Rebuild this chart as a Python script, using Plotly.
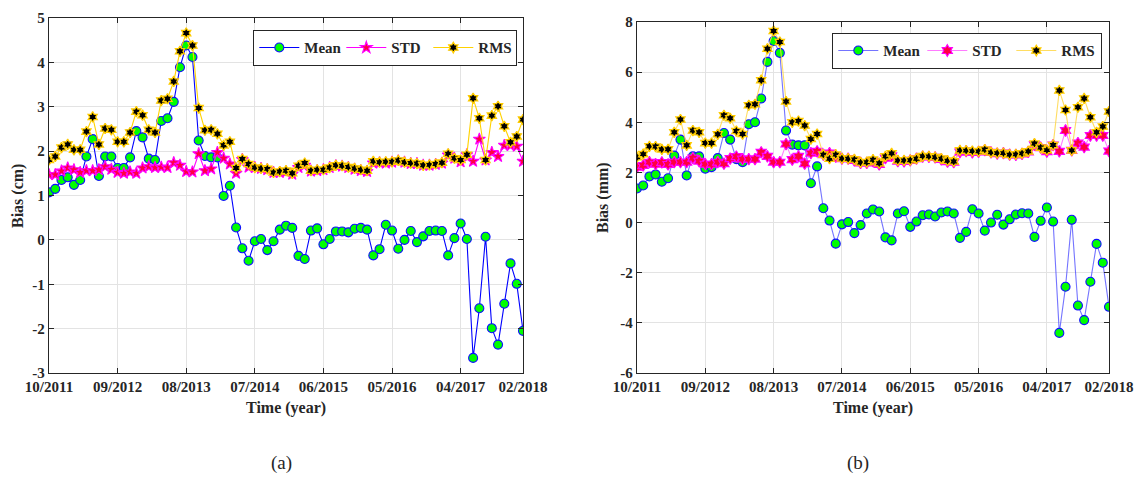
import pandas as pd
import plotly.graph_objects as go

# ---- categories (monthly, 10/2011 .. 02/2018) ----
months = [d.strftime("%m/%Y") for d in pd.date_range("2011-10-01", "2018-02-01", freq="MS")]
tick_labels = ["10/2011", "09/2012", "08/2013", "07/2014", "06/2015", "05/2016", "04/2017", "02/2018"]
yticks_a = [-3, -2, -1, 0, 1, 2, 3, 4, 5]
yticks_b = [-6, -4, -2, 0, 2, 4, 6, 8]

# ---- panel (a): Bias in cm ----
mean_a = [1.07, 1.15, 1.35, 1.41, 1.24, 1.35, 1.88, 2.27, 1.44, 1.88,
          1.88, 1.62, 1.62, 1.86, 2.45, 2.31, 1.83, 1.80, 2.68, 2.74,
          3.11, 3.89, 4.38, 4.12, 2.24, 1.89, 1.86, 1.86, 0.99, 1.22,
          0.28, -0.19, -0.47, -0.03, 0.02, -0.23, -0.03, 0.23, 0.32, 0.27,
          -0.36, -0.43, 0.21, 0.26, -0.10, 0.02, 0.19, 0.19, 0.17, 0.25,
          0.27, 0.23, -0.35, -0.21, 0.34, 0.21, -0.20, 0.00, 0.20, -0.05,
          0.08, 0.20, 0.21, 0.20, -0.35, 0.04, 0.37, 0.02, -2.66, -1.54,
          0.07, -1.99, -2.36, -1.44, -0.53, -0.99, -2.05]
std_a = [1.47, 1.47, 1.55, 1.62, 1.58, 1.52, 1.56, 1.56, 1.58, 1.65,
         1.59, 1.52, 1.50, 1.53, 1.50, 1.62, 1.65, 1.63, 1.64, 1.63,
         1.74, 1.68, 1.54, 1.53, 1.94, 1.56, 1.60, 1.97, 1.84, 1.71,
         1.50, 1.81, 1.64, 1.63, 1.61, 1.58, 1.52, 1.52, 1.53, 1.48,
         1.63, 1.68, 1.55, 1.56, 1.58, 1.63, 1.67, 1.66, 1.63, 1.59,
         1.56, 1.54, 1.73, 1.74, 1.73, 1.75, 1.78, 1.75, 1.72, 1.72,
         1.68, 1.68, 1.70, 1.73, 1.91, 1.84, 1.76, 1.92, 1.77, 2.27,
         1.80, 1.97, 1.88, 2.13, 2.13, 2.11, 1.77]
rms_a = [1.80, 1.88, 2.08, 2.15, 2.03, 2.03, 2.44, 2.77, 2.15, 2.51,
         2.48, 2.21, 2.21, 2.42, 2.89, 2.81, 2.48, 2.42, 3.14, 3.18,
         3.57, 4.25, 4.66, 4.38, 2.97, 2.47, 2.48, 2.39, 2.13, 2.21,
         1.62, 1.82, 1.71, 1.63, 1.61, 1.60, 1.52, 1.54, 1.56, 1.50,
         1.67, 1.73, 1.56, 1.58, 1.58, 1.63, 1.68, 1.67, 1.64, 1.61,
         1.58, 1.56, 1.77, 1.75, 1.76, 1.76, 1.79, 1.75, 1.73, 1.72,
         1.68, 1.69, 1.71, 1.74, 1.94, 1.84, 1.80, 1.92, 3.19, 2.74,
         1.80, 2.80, 3.01, 2.56, 2.20, 2.33, 2.71]

# ---- panel (b): Bias in mm ----
mean_b = [1.36, 1.48, 1.84, 1.92, 1.63, 1.77, 2.67, 3.31, 1.88, 2.64,
          2.64, 2.15, 2.21, 2.57, 3.57, 3.31, 2.53, 2.41, 3.92, 4.00,
          4.95, 6.41, 7.24, 6.77, 3.67, 3.11, 3.08, 3.08, 1.57, 2.24,
          0.57, 0.08, -0.84, -0.07, 0.02, -0.42, -0.10, 0.36, 0.52, 0.44,
          -0.59, -0.71, 0.36, 0.45, -0.17, 0.04, 0.29, 0.32, 0.24, 0.40,
          0.44, 0.36, -0.61, -0.37, 0.53, 0.36, -0.32, 0.00, 0.31, -0.08,
          0.13, 0.32, 0.37, 0.36, -0.57, 0.07, 0.60, 0.04, -4.40, -2.56,
          0.11, -3.31, -3.89, -2.36, -0.85, -1.60, -3.36]
std_b = [2.21, 2.28, 2.41, 2.33, 2.40, 2.32, 2.41, 2.41, 2.41, 2.57,
         2.45, 2.33, 2.33, 2.41, 2.35, 2.55, 2.63, 2.53, 2.53, 2.53,
         2.80, 2.64, 2.41, 2.41, 3.13, 2.51, 2.64, 2.35, 2.77, 2.84,
         2.71, 2.77, 2.63, 2.55, 2.55, 2.48, 2.38, 2.38, 2.45, 2.32,
         2.57, 2.66, 2.45, 2.44, 2.48, 2.55, 2.63, 2.62, 2.60, 2.52,
         2.43, 2.41, 2.81, 2.85, 2.80, 2.82, 2.89, 2.80, 2.75, 2.77,
         2.71, 2.70, 2.74, 2.82, 3.10, 2.99, 2.83, 3.09, 2.84, 3.67,
         2.88, 3.17, 3.01, 3.47, 3.47, 3.47, 2.85]
rms_b = [2.61, 2.73, 3.04, 3.03, 2.92, 2.92, 3.60, 4.11, 3.08, 3.67,
         3.60, 3.17, 3.17, 3.52, 4.28, 4.16, 3.65, 3.53, 4.68, 4.72,
         5.68, 6.93, 7.64, 7.20, 4.83, 4.00, 4.05, 3.87, 3.33, 3.53,
         2.71, 2.55, 2.71, 2.56, 2.55, 2.52, 2.40, 2.41, 2.51, 2.37,
         2.64, 2.76, 2.48, 2.48, 2.49, 2.55, 2.65, 2.64, 2.61, 2.55,
         2.47, 2.44, 2.88, 2.87, 2.85, 2.84, 2.91, 2.80, 2.77, 2.77,
         2.71, 2.72, 2.76, 2.84, 3.15, 2.99, 2.89, 3.09, 5.27, 4.49,
         2.88, 4.60, 4.95, 4.20, 3.60, 3.83, 4.43]

W, H = 1141, 500
SERIF = "Times New Roman, Liberation Serif, serif"

fig = go.Figure()

def add_panel(xa, ya, legend, mean, std, rms, light, std_symbol):
    blue = "rgba(70,70,255,0.75)" if light else "#0000FF"
    mag = "rgba(255,90,255,0.8)" if light else "#FF00FF"
    yel = "rgba(255,215,70,0.85)" if light else "#FFD200"
    fig.add_trace(go.Scatter(
        x=months, y=mean, name="Mean", mode="lines+markers", xaxis=xa, yaxis=ya, legend=legend,
        line=dict(color=blue, width=1.1),
        marker=dict(symbol="circle", size=9, color="#00FF00", line=dict(color="#1010FF", width=1.1))))
    fig.add_trace(go.Scatter(
        x=months, y=std, name="STD", mode="lines+markers", xaxis=xa, yaxis=ya, legend=legend,
        line=dict(color=mag, width=1.1),
        marker=dict(symbol=std_symbol, size=9, color="#FF0040", line=dict(color="#FF00FF", width=1.1))))
    fig.add_trace(go.Scatter(
        x=months, y=rms, name="RMS", mode="lines+markers", xaxis=xa, yaxis=ya, legend=legend,
        line=dict(color=yel, width=1.1),
        marker=dict(symbol="hexagram", size=8, color="#000000", line=dict(color="#FFCC00", width=1.3))))

add_panel("x", "y", "legend", mean_a, std_a, rms_a, False, "star")
add_panel("x2", "y2", "legend2", mean_b, std_b, rms_b, True, "hexagram")

axis_common = dict(
    showline=True, linecolor="#262626", linewidth=1.3, mirror="ticks",
    ticks="inside", ticklen=5, tickcolor="#262626", tickwidth=1,
    showgrid=True, gridcolor="#E3E3E3", gridwidth=1, zeroline=False,
    automargin=False,
    tickfont=dict(family=SERIF, size=15, color="#262626", weight="bold"),
)

xl = [49 / W, 523 / W]
xr = [637 / W, 1109 / W]
leg_font = dict(family=SERIF, size=15, color="#262626", weight="bold")
fig.update_layout(
    width=W, height=H,
    margin=dict(l=0, r=0, t=0, b=0, autoexpand=False),
    paper_bgcolor="white", plot_bgcolor="white",
    font=dict(family=SERIF, size=14, color="#262626"),
    xaxis=dict(domain=xl, anchor="y", type="category", range=[0, 76],
               tickmode="array", tickvals=tick_labels, ticktext=tick_labels, **axis_common),
    yaxis=dict(domain=[1 - 373 / H, 1 - 18 / H], anchor="x", range=[-3, 5],
               tickmode="array", tickvals=yticks_a, ticktext=[str(v) for v in yticks_a], **axis_common),
    xaxis2=dict(domain=xr, anchor="y2", type="category", range=[0, 76],
                tickmode="array", tickvals=tick_labels, ticktext=tick_labels, **axis_common),
    yaxis2=dict(domain=[1 - 373 / H, 1 - 22 / H], anchor="x2", range=[-6, 8],
                tickmode="array", tickvals=yticks_b, ticktext=[str(v) for v in yticks_b], **axis_common),
    legend=dict(orientation="h", x=253 / W, y=1 - 30 / H, xanchor="left", yanchor="top",
                entrywidth=32, entrywidthmode="pixels", itemwidth=40,
                bgcolor="white", bordercolor="#262626", borderwidth=1.3, font=leg_font),
    legend2=dict(orientation="h", x=832 / W, y=1 - 33 / H, xanchor="left", yanchor="top",
                 entrywidth=34, entrywidthmode="pixels", itemwidth=40,
                 bgcolor="white", bordercolor="#262626", borderwidth=1.3, font=leg_font),
    showlegend=True,
)

ann_font = dict(family=SERIF, size=16, color="#262626", weight="bold")
fig.add_annotation(text="Time (year)", xref="paper", yref="paper", x=286 / W, y=1 - 408 / H,
                   showarrow=False, font=ann_font, xanchor="center", yanchor="middle")
fig.add_annotation(text="Time (year)", xref="paper", yref="paper", x=873 / W, y=1 - 408 / H,
                   showarrow=False, font=ann_font, xanchor="center", yanchor="middle")
fig.add_annotation(text="Bias (cm)", xref="paper", yref="paper", x=18 / W, y=1 - 196 / H,
                   showarrow=False, font=ann_font, textangle=-90, xanchor="center", yanchor="middle")
fig.add_annotation(text="Bias (mm)", xref="paper", yref="paper", x=603 / W, y=1 - 198 / H,
                   showarrow=False, font=ann_font, textangle=-90, xanchor="center", yanchor="middle")
lab_font = dict(family=SERIF, size=19, color="#262626")
fig.add_annotation(text="(a)", xref="paper", yref="paper", x=281 / W, y=1 - 463 / H,
                   showarrow=False, font=lab_font, xanchor="center", yanchor="middle")
fig.add_annotation(text="(b)", xref="paper", yref="paper", x=858 / W, y=1 - 463 / H,
                   showarrow=False, font=lab_font, xanchor="center", yanchor="middle")

fig.write_html("out.html")
